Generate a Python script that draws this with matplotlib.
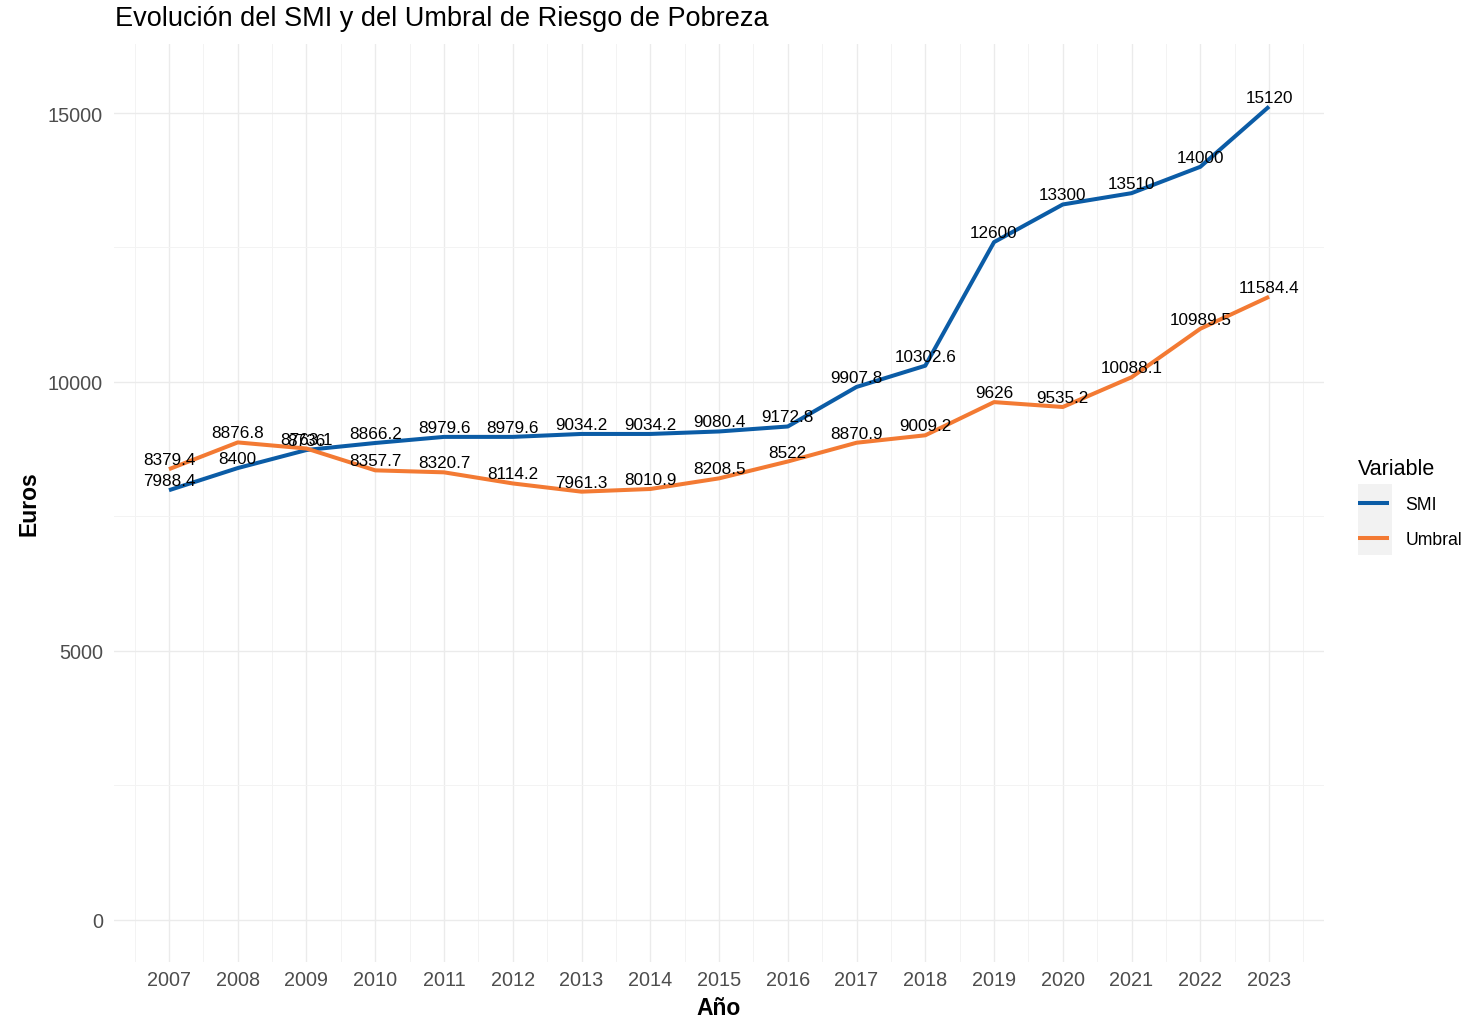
import matplotlib
matplotlib.use('Agg')
from matplotlib import pyplot as plt
from matplotlib.patches import Rectangle

plt.rcParams['font.family'] = ['Liberation Sans', 'DejaVu Sans']

years = list(range(2007, 2024))
smi = [7988.4, 8400, 8736, 8866.2, 8979.6, 8979.6, 9034.2, 9034.2, 9080.4,
       9172.8, 9907.8, 10302.6, 12600, 13300, 13510, 14000, 15120]
umbral = [8379.4, 8876.8, 8763.1, 8357.7, 8320.7, 8114.2, 7961.3, 8010.9,
          8208.5, 8522, 8870.9, 9009.2, 9626, 9535.2, 10088.1, 10989.5, 11584.4]
series = [('SMI', smi, '#0b5ca6'), ('Umbral', umbral, '#f37a33')]

fig = plt.figure(figsize=(14.65, 10.2), dpi=100)
ax = fig.add_axes([0.0778, 0.0559, 0.826, 0.900])

for name, vals, col in series:
    ax.plot(years, vals, color=col, linewidth=2.9, label=name,
            solid_capstyle='butt', zorder=3)
    for x, y in zip(years, vals):
        ax.annotate('{:g}'.format(y), xy=(x, y), xytext=(0, 3.6),
                    textcoords='offset points', ha='center', va='baseline',
                    fontsize=12.3, color='black', zorder=4)

ax.set_xlim(2006.2, 2023.8)
ax.set_ylim(-781, 16283)
ax.set_xticks(years)
ax.set_xticks([y + 0.5 for y in range(2006, 2024)], minor=True)
ax.set_yticks([0, 5000, 10000, 15000])
ax.set_yticks([2500, 7500, 12500], minor=True)

ax.grid(which='major', color='#ebebeb', linewidth=1.0)
ax.grid(which='minor', color='#f3f3f3', linewidth=0.7)
ax.set_axisbelow(True)
for s in ax.spines.values():
    s.set_visible(False)
ax.tick_params(which='both', length=0)
ax.tick_params(axis='x', labelsize=14.3, labelcolor='#4d4d4d', pad=6)
ax.tick_params(axis='y', labelsize=14.3, labelcolor='#4d4d4d', pad=8)

ax.set_xlabel('Año', fontsize=16.5, fontweight='bold', labelpad=5)
ax.set_ylabel('Euros', fontsize=16.5, fontweight='bold', labelpad=5)
fig.text(0.0785, 0.981, 'Evolución del SMI y del Umbral de Riesgo de Pobreza',
         fontsize=19.5, ha='left', va='center')

# legend, grey key background like ggplot
fig.patches.append(Rectangle((0.927, 0.455), 0.0232, 0.0696,
                             transform=fig.transFigure, facecolor='#f2f2f2',
                             edgecolor='none', zorder=-1))
leg = ax.legend(loc='center left', bbox_to_anchor=(1.022, 0.5),
                frameon=False, title='Variable', fontsize=12.7,
                title_fontsize=15.5, handlelength=1.8, handletextpad=0.9,
                labelspacing=1.0, borderaxespad=0)
leg._legend_box.align = 'left'

fig.savefig('out.png', dpi=100)
